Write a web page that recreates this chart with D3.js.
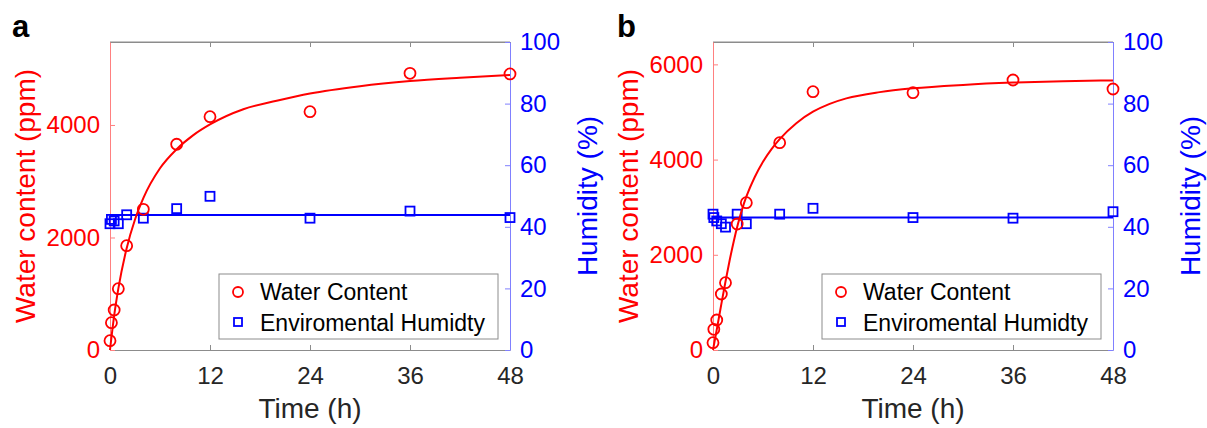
<!DOCTYPE html>
<html>
<head>
<meta charset="utf-8">
<script src="https://d3js.org/d3.v7.min.js"></script>
<style>
	body { margin: 0; background: #fff; }
	svg { font-family: "Liberation Sans", Arial, sans-serif; }
</style>
</head>
<body>
<div id="viewport"></div>
<script>
/**
 * ----------------------------------------------------------------------------------------------------------
 * Data
 */
var timeTicks = [0, 12, 24, 36, 48];
var humTicks = [0, 20, 40, 60, 80, 100];
var waterTicksA = [0, 2000, 4000];
var waterTicksB = [0, 2000, 4000, 6000];
var legendLabels = ["Water Content", "Enviromental Humidty"];

// panel a
var timeA = [0, 0.17, 0.5, 1, 2, 4, 8, 12, 24, 36, 48];
var waterA = [165, 485, 711, 1090, 1854, 2501, 3657, 4148, 4236, 4919, 4907];
var humA = [41.0, 42.4, 41.9, 41.0, 43.9, 42.8, 45.9, 49.9, 42.8, 45.1, 43.0];
var fitTimeA = [0, 0.5, 1, 2, 3, 4, 6, 8, 10, 12, 16, 20, 24, 30, 36, 42, 48];
var fitWaterA = [0, 610, 1090, 1810, 2320, 2700, 3230, 3570, 3820, 4010, 4280, 4430, 4560, 4690, 4780, 4840, 4890];
var humFitA = [43.8, 43.8];

// panel b
var timeB = [0, 0.1, 0.45, 1, 1.5, 2.9, 4, 8, 12, 24, 36, 48];
var waterB = [153, 435, 630, 1176, 1414, 2647, 3095, 4355, 5426, 5406, 5672, 5483];
var humB = [44.1, 43.0, 41.9, 41.0, 39.9, 44.1, 41.0, 44.1, 46.0, 43.0, 42.8, 44.9];
var fitTimeB = [0, 0.5, 1, 1.5, 2, 2.5, 3, 3.5, 4, 5, 6, 7, 8, 10, 12, 14, 16, 20, 24, 30, 36, 42, 48];
var fitWaterB = [0, 475, 965, 1440, 1885, 2290, 2650, 2960, 3220, 3630, 3955, 4215, 4430, 4765, 5005, 5170, 5285, 5417, 5497, 5569, 5617, 5647, 5662];
var humFitB = [43.0, 43.0];

/**
 * ----------------------------------------------------------------------------------------------------------
 * Drawing
 */
var RED = "#ff0000", BLUE = "#0000ff", DARK = "#262626";
var plotTop = 42, plotBottom = 350;
var FONT = "Liberation Sans, Arial, sans-serif";

var svg = d3.select("#viewport").append("svg")
	.attr("width", 1207)
	.attr("height", 428);

function drawPanel(opt) {
	var x = d3.scaleLinear().domain([0, 48]).range([opt.left, opt.right]);
	var yW = d3.scaleLinear().domain([0, opt.wMax]).range([plotBottom, plotTop]);
	var yH = d3.scaleLinear().domain([0, 100]).range([plotBottom, plotTop]);
	var g = svg.append("g");

	// panel letter
	g.append("text").attr("x", opt.letterX).attr("y", 37)
		.attr("font-size", 31).attr("font-weight", "bold").attr("fill", "#000")
		.text(opt.letter);

	// box top line
	g.append("line").attr("x1", opt.left).attr("x2", opt.right).attr("y1", plotTop).attr("y2", plotTop)
		.attr("stroke", "#8c8c8c").attr("stroke-width", 1);

	// x axes (bottom with labels, top ticks only)
	var xb = g.append("g").attr("transform", "translate(0," + plotBottom + ")")
		.call(d3.axisBottom(x).tickValues(timeTicks).tickFormat(d3.format("d"))
			.tickSizeInner(-5).tickSizeOuter(0).tickPadding(17));
	var xt = g.append("g").attr("transform", "translate(0," + plotTop + ")")
		.call(d3.axisTop(x).tickValues(timeTicks).tickSizeInner(-5).tickSizeOuter(0).tickFormat(""));
	[xb, xt].forEach(function(a) {
		a.select(".domain").attr("stroke", "#8c8c8c");
		a.selectAll(".tick line").attr("stroke", "#8c8c8c");
		a.selectAll("text").attr("fill", DARK).attr("font-size", 24).attr("font-family", FONT);
	});

	// left axis (water)
	var yl = g.append("g").attr("transform", "translate(" + opt.left + ",0)")
		.call(d3.axisLeft(yW).tickValues(opt.wTicks).tickFormat(d3.format("d"))
			.tickSizeInner(-5).tickSizeOuter(0).tickPadding(10));
	yl.select(".domain").attr("stroke", "#ff8080");
	yl.selectAll(".tick line").attr("stroke", "#ff8080");
	yl.selectAll("text").attr("fill", RED).attr("font-size", 24).attr("font-family", FONT);

	// right axis (humidity)
	var yr = g.append("g").attr("transform", "translate(" + opt.right + ",0)")
		.call(d3.axisRight(yH).tickValues(humTicks).tickFormat(d3.format("d"))
			.tickSizeInner(-5).tickSizeOuter(0).tickPadding(10));
	yr.select(".domain").attr("stroke", "#8080ff");
	yr.selectAll(".tick line").attr("stroke", "#8080ff");
	yr.selectAll("text").attr("fill", BLUE).attr("font-size", 24).attr("font-family", FONT);

	// axis titles
	var midY = (plotTop + plotBottom) / 2;
	g.append("text").attr("x", (opt.left + opt.right) / 2).attr("y", 418)
		.attr("text-anchor", "middle").attr("font-size", 28).attr("fill", DARK).text("Time (h)");
	g.append("text").attr("transform", "translate(" + (opt.left - 75) + "," + midY + ") rotate(-90)")
		.attr("text-anchor", "middle").attr("font-size", 28).attr("fill", RED)
		.text("Water content (ppm)");
	g.append("text").attr("transform", "translate(" + (opt.right + 87) + "," + midY + ") rotate(-90)")
		.attr("text-anchor", "middle").attr("font-size", 28).attr("fill", BLUE)
		.text("Humidity (%)");

	// humidity fit line + squares
	g.append("line")
		.attr("x1", x(0)).attr("x2", x(48))
		.attr("y1", yH(opt.humFit[0])).attr("y2", yH(opt.humFit[1]))
		.attr("stroke", BLUE).attr("stroke-width", 2);
	g.selectAll("rect.hum").data(opt.time).enter().append("rect")
		.attr("class", "hum")
		.attr("x", function(d) { return x(d) - 4.5; })
		.attr("y", function(d, i) { return yH(opt.hum[i]) - 4.5; })
		.attr("width", 9).attr("height", 9)
		.attr("fill", "none").attr("stroke", BLUE).attr("stroke-width", 1.8);

	// water fit curve + circles
	var line = d3.line()
		.x(function(d) { return x(d[0]); })
		.y(function(d) { return yW(d[1]); })
		.curve(d3.curveMonotoneX);
	g.append("path")
		.datum(d3.zip(opt.fitTime, opt.fitWater))
		.attr("d", line)
		.attr("fill", "none").attr("stroke", RED).attr("stroke-width", 2);
	g.selectAll("circle.water").data(opt.time).enter().append("circle")
		.attr("class", "water")
		.attr("cx", function(d) { return x(d); })
		.attr("cy", function(d, i) { return yW(opt.water[i]); })
		.attr("r", 5.5)
		.attr("fill", "none").attr("stroke", RED).attr("stroke-width", 1.8);

	// legend
	var lx = opt.right - 291, ly = 274;
	var lg = g.append("g").attr("transform", "translate(" + lx + "," + ly + ")");
	lg.append("rect").attr("width", 279).attr("height", 65)
		.attr("fill", "#fff").attr("stroke", "#8c8c8c").attr("stroke-width", 1);
	lg.append("circle").attr("cx", 19).attr("cy", 18).attr("r", 5)
		.attr("fill", "none").attr("stroke", RED).attr("stroke-width", 1.8);
	lg.append("rect").attr("x", 15).attr("y", 44).attr("width", 8).attr("height", 8)
		.attr("fill", "none").attr("stroke", BLUE).attr("stroke-width", 1.8);
	lg.selectAll("text.leg").data(legendLabels).enter().append("text")
		.attr("class", "leg")
		.attr("x", 41)
		.attr("y", function(d, i) { return 26 + i * 31; })
		.attr("font-size", 23).attr("fill", "#000")
		.text(function(d) { return d; });
}

drawPanel({
	letter: "a", letterX: 12,
	left: 110, right: 510,
	wMax: 5475, wTicks: waterTicksA,
	time: timeA, water: waterA, hum: humA,
	fitTime: fitTimeA, fitWater: fitWaterA, humFit: humFitA
});

drawPanel({
	letter: "b", letterX: 617,
	left: 713, right: 1113,
	wMax: 6470, wTicks: waterTicksB,
	time: timeB, water: waterB, hum: humB,
	fitTime: fitTimeB, fitWater: fitWaterB, humFit: humFitB
});
</script>
</body>
</html>
